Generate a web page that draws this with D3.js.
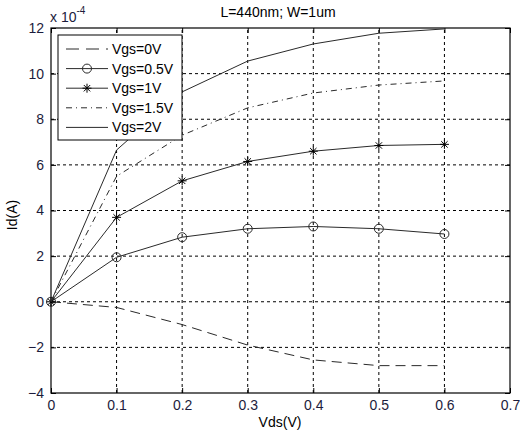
<!doctype html>
<html lang="en">
  <head>
    <meta charset="UTF-8" />
    <title>L=440nm; W=1um</title>
    <script src="https://d3js.org/d3.v7.min.js"></script>
    <style>
      body { margin: 0; background: #fff; }
      svg { font-family: 'Liberation Sans', Arial, sans-serif; }
      .grid line { stroke: #000; stroke-dasharray: 3, 3; stroke-width: 1; }
      .tick text { fill: #1c1c3c; font-size: 14px; }
    </style>
  </head>
  <body>
    <svg width="520" height="434"></svg>
    <script>
      // Vds values (V)
      const vds = [0, 0.1, 0.2, 0.3, 0.4, 0.5, 0.6];
      // Id values in units of 1e-4 A
      const vgs0 = [0, -0.25, -1.0, -1.9, -2.55, -2.8, -2.8];
      const vgs05 = [0, 1.95, 2.83, 3.2, 3.3, 3.2, 2.97];
      const vgs1 = [0, 3.7, 5.3, 6.15, 6.6, 6.85, 6.9];
      const vgs15 = [0, 5.5, 7.3, 8.5, 9.15, 9.5, 9.68];
      const vgs2 = [0, 6.65, 9.2, 10.55, 11.3, 11.77, 11.96];
      const seriesNames = ['Vgs=0V', 'Vgs=0.5V', 'Vgs=1V', 'Vgs=1.5V', 'Vgs=2V'];
      const xTicks = [0, 0.1, 0.2, 0.3, 0.4, 0.5, 0.6, 0.7];
      const yTicks = [-4, -2, 0, 2, 4, 6, 8, 10, 12];

      const series = [
        { name: seriesNames[0], values: vgs0, dash: '10,6', marker: null },
        { name: seriesNames[1], values: vgs05, dash: null, marker: 'circle' },
        { name: seriesNames[2], values: vgs1, dash: null, marker: 'star' },
        { name: seriesNames[3], values: vgs15, dash: '6,4,1,4', marker: null },
        { name: seriesNames[4], values: vgs2, dash: null, marker: null },
      ];

      const margin = { top: 28, right: 10, bottom: 41, left: 51 };
      const svg = d3.select('svg');
      const width = 520, height = 434;

      const x = d3.scaleLinear().domain([0, 0.7])
        .range([margin.left, width - margin.right]);
      const y = d3.scaleLinear().domain([-4, 12])
        .range([height - margin.bottom, margin.top]);

      // grid
      svg.append('g').attr('class', 'grid')
        .selectAll('line').data(xTicks.slice(1, -1)).enter().append('line')
        .attr('x1', d => x(d)).attr('x2', d => x(d))
        .attr('y1', y(-4)).attr('y2', y(12));
      svg.append('g').attr('class', 'grid')
        .selectAll('line').data(yTicks.slice(1, -1)).enter().append('line')
        .attr('y1', d => y(d)).attr('y2', d => y(d))
        .attr('x1', x(0)).attr('x2', x(0.7));

      // axes
      const fmt = d => d === 0 ? '0' : d3.format('.1f')(d);
      svg.append('g')
        .attr('transform', `translate(0,${y(-4)})`)
        .call(d3.axisBottom(x).tickValues(xTicks).tickFormat(fmt).tickSizeInner(-5).tickSizeOuter(0).tickPadding(7))
        .call(g => g.select('.domain').remove());
      svg.append('g')
        .attr('transform', `translate(${x(0)},0)`)
        .call(d3.axisLeft(y).tickValues(yTicks).tickFormat(d3.format('d')).tickSizeInner(-5).tickSizeOuter(0).tickPadding(7))
        .call(g => g.select('.domain').remove());
      // top / right ticks
      svg.append('g')
        .attr('transform', `translate(0,${y(12)})`)
        .call(d3.axisTop(x).tickValues(xTicks).tickFormat('').tickSizeInner(-5).tickSizeOuter(0))
        .call(g => g.select('.domain').remove());
      svg.append('g')
        .attr('transform', `translate(${x(0.7)},0)`)
        .call(d3.axisRight(y).tickValues(yTicks).tickFormat('').tickSizeInner(-5).tickSizeOuter(0))
        .call(g => g.select('.domain').remove());

      svg.append('rect')
        .attr('x', x(0)).attr('y', y(12))
        .attr('width', x(0.7) - x(0)).attr('height', y(-4) - y(12))
        .attr('fill', 'none').attr('stroke', '#000').attr('stroke-width', 1.2);

      // lines
      const line = d3.line().x((d, i) => x(vds[i])).y(d => y(d));
      const ink = '#2a2a2a';

      function drawMarker(g, type, cx, cy) {
        if (type === 'circle') {
          g.append('circle').attr('cx', cx).attr('cy', cy).attr('r', 4.5)
            .attr('fill', 'none').attr('stroke', ink).attr('stroke-width', 1);
        } else if (type === 'star') {
          const s = 4.5;
          const p = [[0, -s, 0, s], [-s, 0, s, 0], [-3.2, -3.2, 3.2, 3.2], [-3.2, 3.2, 3.2, -3.2]];
          p.forEach(q => g.append('line')
            .attr('x1', cx + q[0]).attr('y1', cy + q[1])
            .attr('x2', cx + q[2]).attr('y2', cy + q[3])
            .attr('stroke', '#000').attr('stroke-width', 1));
        }
      }

      series.forEach(s => {
        svg.append('path').datum(s.values)
          .attr('d', line)
          .attr('fill', 'none')
          .attr('stroke', ink)
          .attr('stroke-width', 1)
          .attr('stroke-dasharray', s.dash);
        if (s.marker) {
          const g = svg.append('g');
          s.values.forEach((v, i) => drawMarker(g, s.marker, x(vds[i]), y(v)));
        }
      });

      // legend
      const lg = svg.append('g');
      lg.append('rect').attr('x', 58).attr('y', 35).attr('width', 124).attr('height', 105)
        .attr('fill', '#fff').attr('stroke', '#000').attr('stroke-width', 1);
      series.forEach((s, i) => {
        const ly = 49 + i * 19.6;
        lg.append('line').attr('x1', 66).attr('x2', 108).attr('y1', ly).attr('y2', ly)
          .attr('stroke', ink).attr('stroke-width', 1).attr('stroke-dasharray', s.dash === '10,6' ? '13,7' : s.dash);
        if (s.marker) drawMarker(lg, s.marker, 87, ly);
        lg.append('text').attr('x', 112).attr('y', ly).attr('dy', '0.35em')
          .style('font-size', '14px').attr('fill', '#000').text(s.name);
      });

      // titles
      svg.append('text').attr('x', 278).attr('y', 17).attr('text-anchor', 'middle')
        .style('font-size', '14px').text('L=440nm; W=1um');
      svg.append('text').attr('x', 280).attr('y', 427).attr('text-anchor', 'middle')
        .style('font-size', '14px').text('Vds(V)');
      svg.append('text').attr('transform', 'translate(17,215) rotate(-90)').attr('text-anchor', 'middle')
        .style('font-size', '14px').text('Id(A)');
      const ex = svg.append('text').attr('x', 50).attr('y', 22).style('font-size', '14px').attr('fill', '#1c1c3c');
      ex.append('tspan').text('x 10');
      ex.append('tspan').attr('dy', -8).style('font-size', '10px').text('-4');
    </script>
  </body>
</html>
